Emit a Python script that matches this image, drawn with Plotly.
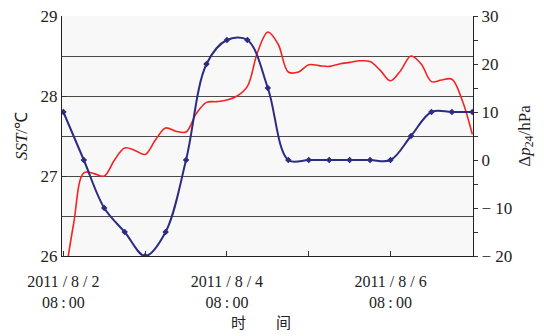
import pandas as pd
import plotly.graph_objects as go

# Sea surface temperature, every 3 hours from 2011-08-02 08:00 (°C)
sst_hours = list(range(0, 121, 3))
sst_values = [25.6, 26.4, 27.04, 27.03, 27.0, 27.2, 27.35, 27.32, 27.27, 27.45,
              27.60, 27.56, 27.55, 27.78, 27.92, 27.93, 27.95, 28.00, 28.12, 28.55,
              28.80, 28.65, 28.30, 28.30, 28.39, 28.38, 28.37, 28.40, 28.42, 28.44,
              28.43, 28.32, 28.19, 28.32, 28.50, 28.40, 28.18, 28.20, 28.21, 27.95,
              27.52]

# 24-hour pressure change, every 6 hours (hPa)
dp_hours = list(range(0, 121, 6))
dp_values = [10, 0, -10, -15, -20, -15, 0, 20, 25, 25, 15,
             0, 0, 0, 0, 0, 0, 5, 10, 10, 10]

start = pd.Timestamp("2011-08-02 08:00")
sst_time = [start + pd.Timedelta(hours=h) for h in sst_hours]
dp_time = [start + pd.Timedelta(hours=h) for h in dp_hours]

label_days = [0, 2, 4]
tick_days = [1, 3]
tick_text = ["2011 / 8 / 2<br>08\u2009:\u200900",
             "2011 / 8 / 4<br>08\u2009:\u200900",
             "2011 / 8 / 6<br>08\u2009:\u200900"]

left_ticks = [26, 27, 28, 29]
left_grid = [26.5, 27, 27.5, 28, 28.5]
right_ticks = [-20, -10, 0, 10, 20, 30]
right_text = ["\u2212 20", "\u2212 10", "0", "10", "20", "30"]

serif = "Liberation Serif"

fig = go.Figure()
fig.add_trace(go.Scatter(
    x=sst_time, y=sst_values, mode="lines", yaxis="y",
    line=dict(color="#f52222", width=1.6, shape="spline", smoothing=1.0),
    showlegend=False))
fig.add_trace(go.Scatter(
    x=dp_time, y=dp_values, mode="lines+markers", yaxis="y2",
    line=dict(color="#2c2c82", width=2, shape="spline", smoothing=1.0),
    marker=dict(symbol="diamond", size=5, color="#2c2c82"),
    showlegend=False))

fig.update_layout(
    width=544, height=336,
    margin=dict(l=62, r=71, t=16, b=80),
    paper_bgcolor="white",
    plot_bgcolor="#f8f8f8",
    font=dict(family=serif, size=17, color="#222"),
    xaxis=dict(
        range=[start - pd.Timedelta(minutes=24), start + pd.Timedelta(hours=120, minutes=12)],
        tickmode="array",
        tickvals=[start + pd.Timedelta(days=d) for d in label_days],
        ticktext=tick_text,
        tickfont=dict(size=16),
        ticks="inside", ticklen=5, tickcolor="#333",
        minor=dict(tickmode="array",
                   tickvals=[start + pd.Timedelta(days=d) for d in tick_days],
                   ticks="inside", ticklen=5, tickcolor="#333"),
        ticklabelstandoff=11,
        automargin=False,
        showline=True, linecolor="#222", linewidth=1.2,
        showgrid=False, zeroline=False,
    ),
    yaxis=dict(
        range=[26, 29], tickmode="array", tickvals=left_ticks,
        ticks="inside", ticklen=5, tickcolor="#333",
        showline=True, linecolor="#222", linewidth=1.2,
        showgrid=False, zeroline=False, automargin=False,
        minor=dict(tickmode="array", tickvals=left_grid, showgrid=True,
                   gridcolor="#4a4a4a", gridwidth=1, ticks=""),
        title=dict(text="<i>SST</i>/℃", font=dict(size=17), standoff=8),
    ),
    yaxis2=dict(
        range=[-20, 30], overlaying="y", side="right",
        tickmode="array", tickvals=right_ticks, ticktext=right_text,
        ticks="outside", ticklen=4, tickcolor="#333",
        minor=dict(dtick=5, tick0=0, ticks="outside", ticklen=4, tickcolor="#333"),
        showline=True, linecolor="#222", linewidth=1.2,
        showgrid=False, zeroline=False, automargin=False,
        title=dict(text="Δ<i>p</i><sub>24</sub>/hPa", font=dict(size=17), standoff=6),
    ),
    annotations=[dict(
        text="时\u3000\u3000间", xref="paper", yref="paper",
        x=0.484, y=-0.272, xanchor="center", yanchor="middle", showarrow=False,
        font=dict(family="Noto Sans CJK SC", size=15, color="#222"))],
)

fig.write_html("out.html")
